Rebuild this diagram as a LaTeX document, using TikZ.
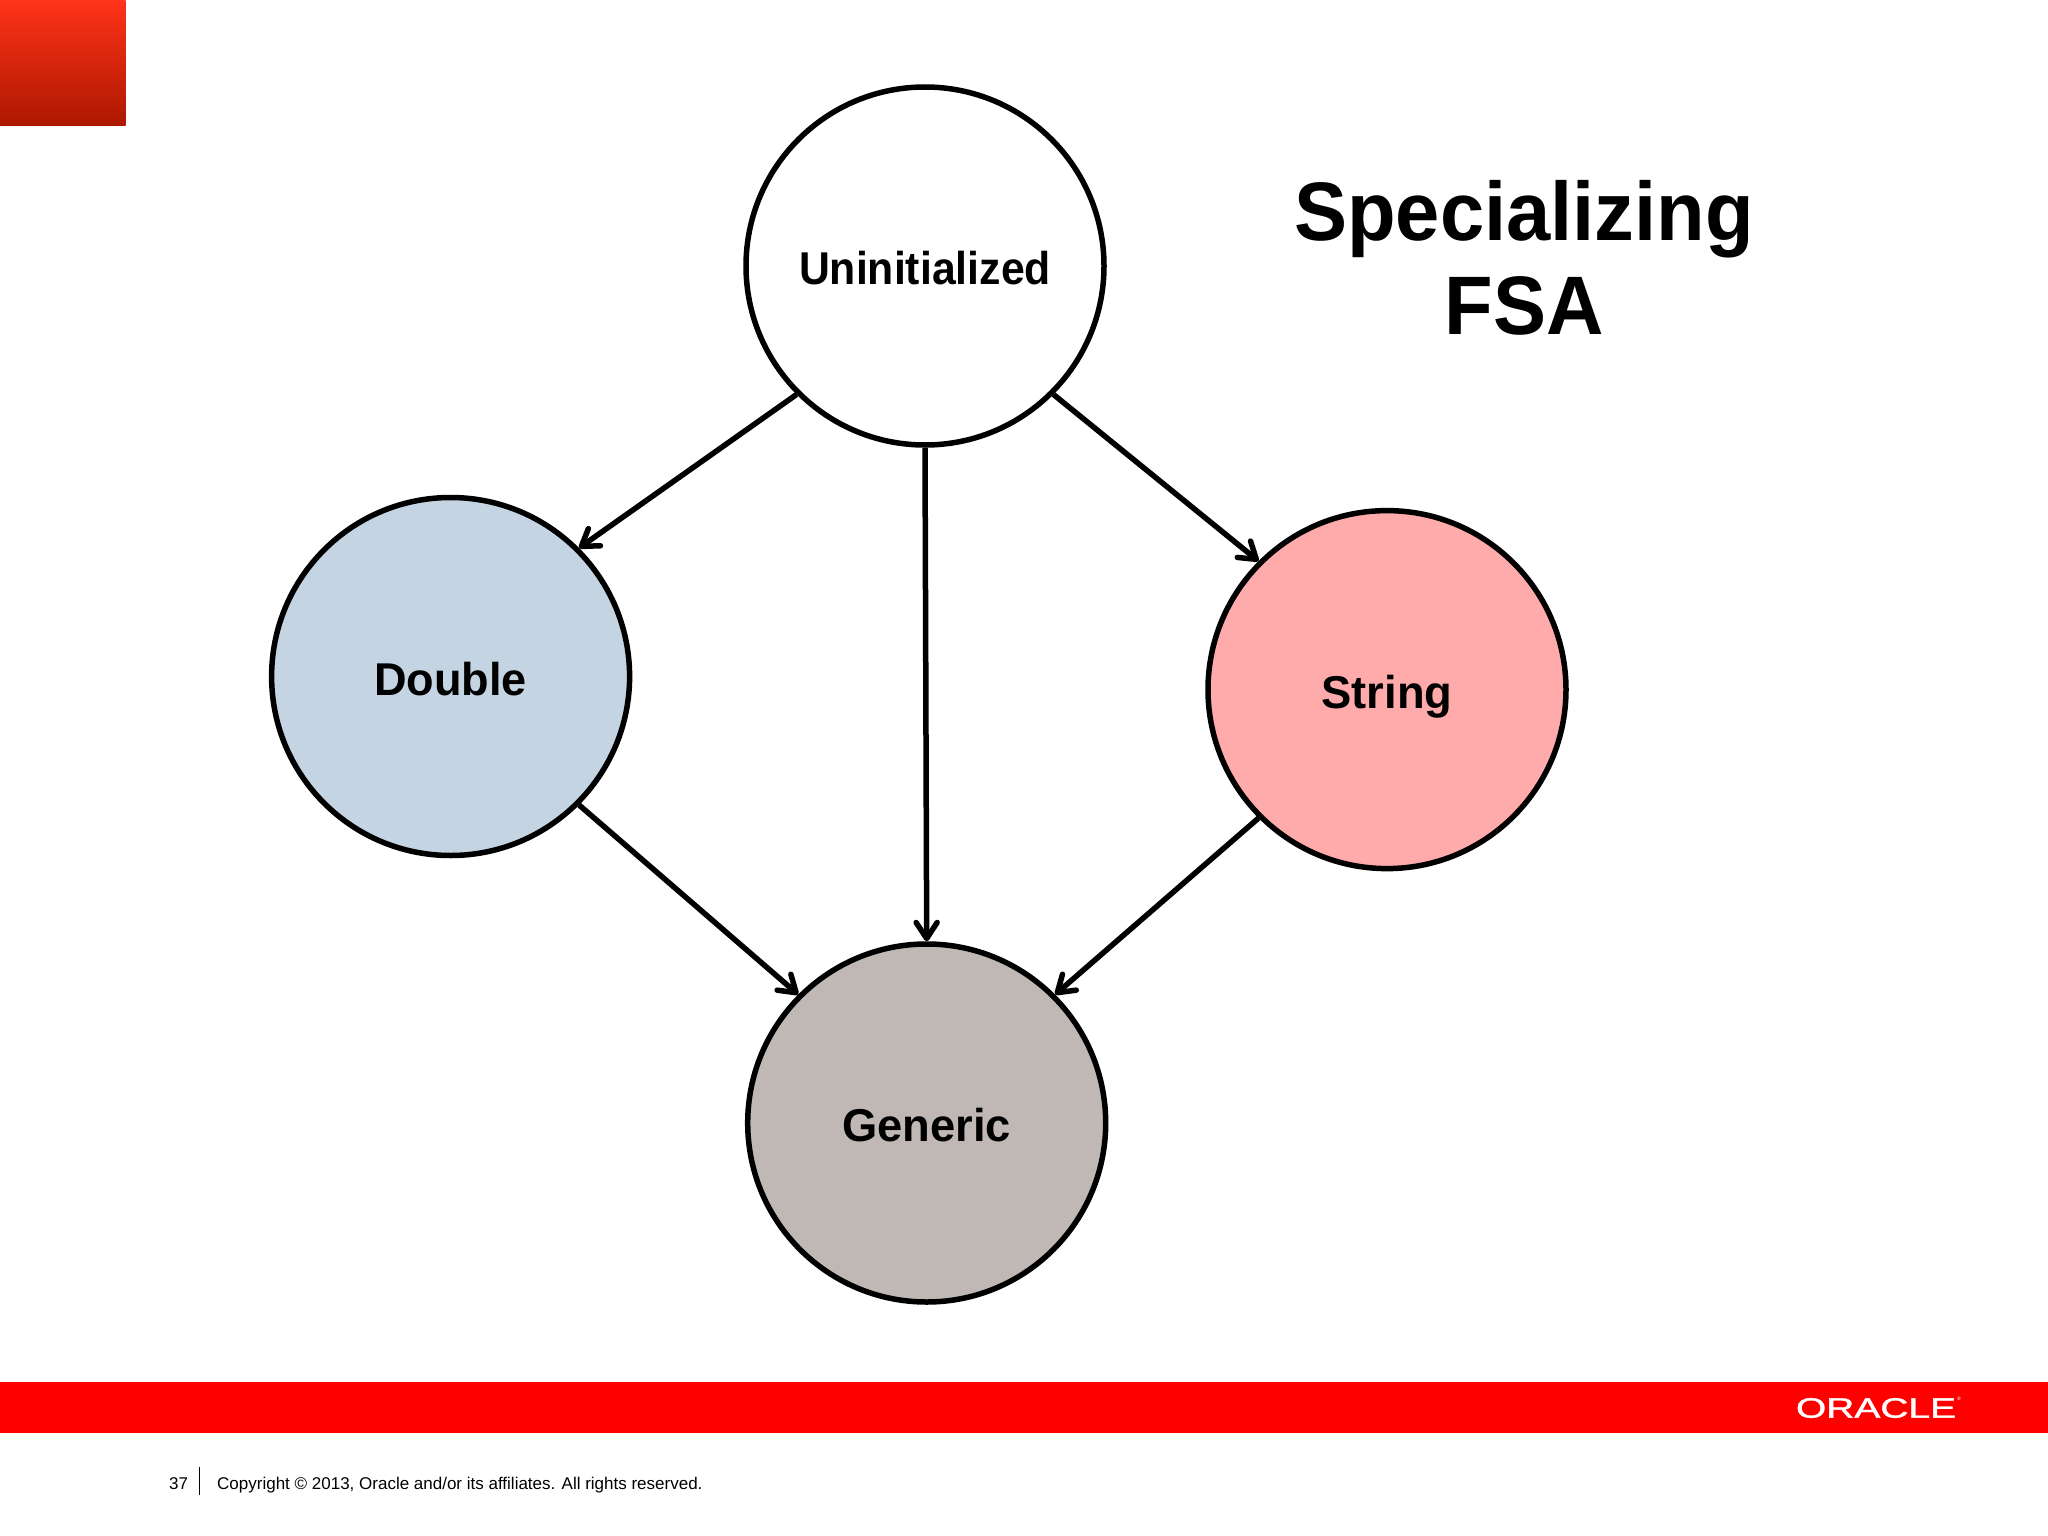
\documentclass[tikz,border=0pt]{standalone}
\usepackage{fontspec}
\usepackage{graphicx}
\setmainfont{Liberation Sans}
\newfontfamily\logofont[FakeBold=1.2]{Liberation Sans}
\usetikzlibrary{arrows.meta}
\definecolor{dblue}{HTML}{C4D4E2}
\definecolor{spink}{HTML}{FFABAB}
\definecolor{ggrey}{HTML}{BFB8B4}
\definecolor{bandred}{HTML}{FF0000}
\newcommand{\narrowtext}[2]{\scalebox{#1}[1]{#2}}
\tikzset{
  state/.style={circle,draw=black,line width=5.5pt,minimum size=358pt,inner sep=0pt,text height=37pt,text depth=0pt,font=\fontsize{46}{50}\selectfont\bfseries},
  link/.style={draw=black,line width=5.5pt,-{Straight Barb[length=16pt,width=21pt,line width=5.5pt,round]}},
  titletext/.style={font=\fontsize{83}{94}\selectfont\bfseries,align=center,inner sep=0pt},
  foot/.style={font=\fontsize{17}{20}\selectfont,inner sep=0pt,anchor=base west},
}
\begin{document}
\begin{tikzpicture}[x=1pt,y=-1pt]
\useasboundingbox (0,0) rectangle (2048,1536);
\fill[white] (0,0) rectangle (2048,1536);
\shade[top color={rgb,255:red,255;green,51;blue,25},bottom color={rgb,255:red,172;green,24;blue,0},shading angle=0] (0,0) rectangle (125.5,125.5);
\fill[bandred] (0,1382) rectangle (2048,1433);
\node[state] (u) at (925,266) {\narrowtext{0.93}{Uninitialized}};
\node[state,fill=dblue] (d) at (450.6,676.5) {\narrowtext{0.98}{Double}};
\node[state,fill=spink] (s) at (1387,689.6) {\narrowtext{0.985}{String}};
\node[state,fill=ggrey] (g) at (926.7,1123) {\narrowtext{0.985}{Generic}};
\draw[link] (u.225) -- (d.45);
\draw[link] (u.-45) -- (s.135);
\draw[link] (u.south) -- (g.north);
\draw[link] (d.-45) -- (g.135);
\draw[link] (s.225) -- (g.45);
\node[titletext] (t) at (1524,257.5) {\narrowtext{0.958}{Specializing}\\\narrowtext{0.958}{FSA}};
\node[font=\fontsize{28}{28}\selectfont\logofont,text=white,inner sep=0pt,xscale=1.39] (o) at (1876,1408) {ORACLE};
\node[font=\fontsize{5}{5}\selectfont,text=white,inner sep=0pt] (r) at (1959,1399) {®};
\node[foot] (n) at (169,1489) {37};
\node[foot] (c) at (217,1489) {Copyright © 2013, Oracle and/or its affiliates. All rights reserved.};
\coordinate (a) at (199.5,1467);
\coordinate (b) at (199.5,1495);
\draw[black,line width=1.2pt] (a) -- (b);
\end{tikzpicture}
\end{document}
